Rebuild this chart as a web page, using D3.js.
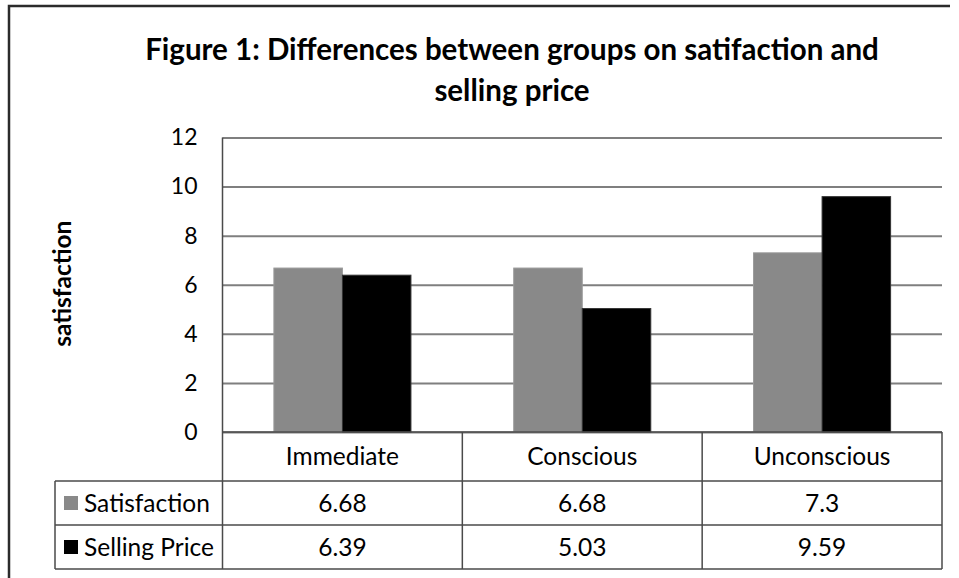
<!DOCTYPE html>
<html>
<head>
<meta charset="utf-8">
<script src="https://cdn.jsdelivr.net/npm/d3@7"></script>
<style>
  body { margin: 0; background: #fff; }
  svg text { font-family: Lato, "Open Sans", sans-serif; fill: #000; }
</style>
</head>
<body>
<svg id="chart" width="959" height="578"></svg>
<script>
// data
const categories = ["Immediate", "Conscious", "Unconscious"];
const seriesNames = ["Satisfaction", "Selling Price"];
const satisfaction = [6.68, 6.68, 7.3];
const sellingPrice = [6.39, 5.03, 9.59];
const yTicks = [0, 2, 4, 6, 8, 10, 12];

const colors = ["#898989", "#000000"];
const seriesValues = [satisfaction, sellingPrice];

const svg = d3.select("#chart");
const width = +svg.attr("width");
const height = +svg.attr("height");

const plot = { left: 222.5, right: 942, top: 137.5, bottom: 432 };
const rowH = [49, 44, 44];
const tableLeft = 55;

// outer frame (left + top visible)
svg.append("path")
  .attr("d", `M9,${height} V6 H950`)
  .attr("fill", "none")
  .attr("stroke", "#2b2b2b")
  .attr("stroke-width", 2.5);

// title
const title = svg.append("text")
  .attr("x", 512)
  .attr("text-anchor", "middle")
  .style("font-weight", "bold")
  .style("font-size", "29.5px");
title.append("tspan").attr("x", 512).attr("y", 60).text("Figure 1: Differences between groups on satifaction and");
title.append("tspan").attr("x", 512).attr("y", 101).text("selling price");

const x = d3.scaleBand()
  .domain(categories)
  .range([plot.left, plot.right]);

const x1 = d3.scaleBand()
  .domain(seriesNames)
  .range([0, x.bandwidth()])
  .paddingOuter(0.75);

const y = d3.scaleLinear()
  .domain([0, 12])
  .range([plot.bottom, plot.top]);

// gridlines
const grid = svg.append("g")
  .attr("transform", `translate(${plot.left},0)`)
  .call(d3.axisLeft(y).tickValues(yTicks).tickSize(-(plot.right - plot.left)).tickFormat(""));
grid.select(".domain").remove();
grid.selectAll(".tick line").attr("stroke", "#7f7f7f").attr("stroke-width", 2);

// y tick labels
const yAxis = svg.append("g")
  .attr("transform", `translate(${plot.left - 25},0)`)
  .call(d3.axisLeft(y).tickValues(yTicks).tickSize(0).tickPadding(0));
yAxis.select(".domain").remove();
yAxis.selectAll("text").style("font-size", "23px").attr("fill", "#000");

// y axis title
svg.append("text")
  .attr("transform", `translate(71,${(plot.top + plot.bottom) / 2 - 1}) rotate(-90)`)
  .attr("text-anchor", "middle")
  .style("font-weight", "bold")
  .style("font-size", "24.5px")
  .text("satisfaction");

// bars
const groups = svg.append("g").selectAll("g")
  .data(categories)
  .join("g")
  .attr("transform", d => `translate(${x(d)},0)`);

groups.selectAll("rect")
  .data((d, i) => seriesNames.map((s, j) => ({ s, v: seriesValues[j][i], c: colors[j] })))
  .join("rect")
  .attr("x", d => x1(d.s))
  .attr("width", x1.bandwidth())
  .attr("y", d => y(d.v))
  .attr("height", d => y(0) - y(d.v))
  .attr("fill", d => d.c)
  .attr("stroke", d => d.c === "#000000" ? "#333" : "#9a9a9a")
  .attr("stroke-width", 1);

// data table
const table = svg.append("g");
const rowY = [plot.bottom, plot.bottom + rowH[0], plot.bottom + rowH[0] + rowH[1], plot.bottom + rowH[0] + rowH[1] + rowH[2]];
const lineColor = "#4a4a4a";

// horizontal lines
table.append("line").attr("x1", plot.left).attr("x2", plot.right).attr("y1", rowY[0]).attr("y2", rowY[0]);
[1, 2, 3].forEach(k => {
  table.append("line").attr("x1", tableLeft).attr("x2", plot.right).attr("y1", rowY[k]).attr("y2", rowY[k]);
});
// vertical lines
table.append("line").attr("x1", tableLeft).attr("x2", tableLeft).attr("y1", rowY[1]).attr("y2", rowY[3]);
categories.forEach(c => {
  table.append("line").attr("x1", x(c)).attr("x2", x(c)).attr("y1", c === categories[0] ? plot.top : rowY[0]).attr("y2", rowY[3]);
});
table.append("line").attr("x1", plot.right).attr("x2", plot.right).attr("y1", rowY[0]).attr("y2", rowY[3]);
table.selectAll("line").attr("stroke", lineColor).attr("stroke-width", 1.5);

// header labels
table.selectAll("text.cat")
  .data(categories)
  .join("text")
  .attr("class", "cat")
  .attr("x", d => x(d) + x.bandwidth() / 2)
  .attr("y", (rowY[0] + rowY[1]) / 2)
  .attr("dy", "0.35em")
  .attr("text-anchor", "middle")
  .style("font-size", "24.5px")
  .text(d => d);

// series rows
seriesNames.forEach((s, j) => {
  const cy = (rowY[j + 1] + rowY[j + 2]) / 2;
  table.append("rect")
    .attr("x", 64).attr("y", cy - 7).attr("width", 14).attr("height", 14)
    .attr("fill", colors[j]);
  table.append("text")
    .attr("x", 84).attr("y", cy).attr("dy", "0.35em")
    .style("font-size", "24.5px")
    .text(s);
  table.selectAll(null)
    .data(seriesValues[j])
    .join("text")
    .attr("x", (d, i) => x(categories[i]) + x.bandwidth() / 2)
    .attr("y", cy).attr("dy", "0.35em")
    .attr("text-anchor", "middle")
    .style("font-size", "24.5px")
    .text(d => d);
});
</script>
</body>
</html>
